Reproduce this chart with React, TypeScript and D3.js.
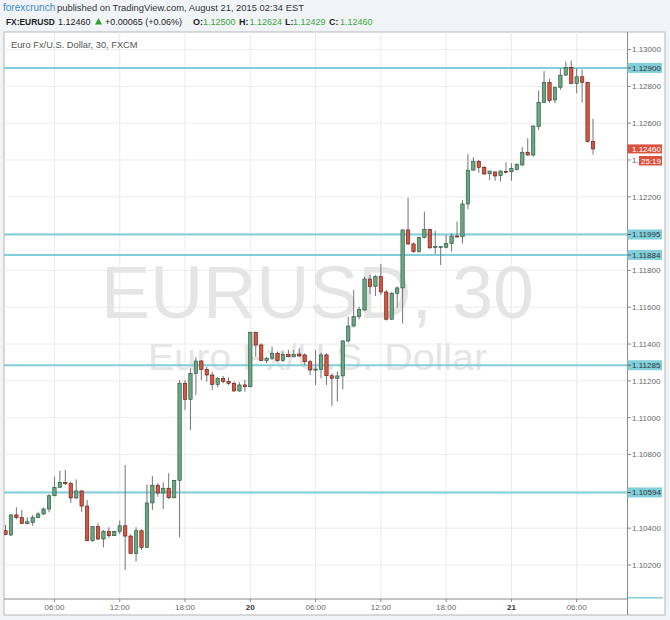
import React from 'react';
import * as d3 from 'd3';

// EURUSD 30 min candles, first bar 2015-08-19 01:30
const startTime = Date.UTC(2015, 7, 19, 1, 30);
const barMs = 30 * 60 * 1000;

const opens = [
  1.10386, 1.10363, 1.10472, 1.10457, 1.10424, 1.10432, 1.10457, 1.10477, 1.10504, 1.10576,
  1.10622, 1.10649, 1.10642, 1.10564, 1.10602, 1.10520, 1.10332, 1.10408, 1.10341, 1.10383,
  1.10359, 1.10383, 1.10413, 1.10357, 1.10263, 1.10386, 1.10296, 1.10537, 1.10633, 1.10591,
  1.10617, 1.10565, 1.10660, 1.11187, 1.11100, 1.11241, 1.11308, 1.11263, 1.11232, 1.11181,
  1.11214, 1.11196, 1.11187, 1.11145, 1.11178, 1.11168, 1.11464, 1.11395, 1.11310, 1.11323,
  1.11350, 1.11310, 1.11344, 1.11331, 1.11346, 1.11341, 1.11304, 1.11259, 1.11261, 1.11341,
  1.11228, 1.11214, 1.11227, 1.11417, 1.11498, 1.11549, 1.11585, 1.11753, 1.11712, 1.11766,
  1.11683, 1.11535, 1.11676, 1.11705, 1.12020, 1.11944, 1.11902, 1.11980, 1.12023, 1.11926,
  1.11929, 1.11926, 1.11947, 1.11987, 1.11983, 1.12161, 1.12345, 1.12393, 1.12360, 1.12325,
  1.12335, 1.12315, 1.12338, 1.12336, 1.12349, 1.12373, 1.12442, 1.12427, 1.12581, 1.12713,
  1.12820, 1.12726, 1.12795, 1.12861, 1.12903, 1.12816, 1.12852, 1.12822, 1.12500,
];
const highs = [
  1.10417, 1.10477, 1.10513, 1.10499, 1.10459, 1.10472, 1.10488, 1.10513, 1.10584, 1.10680,
  1.10712, 1.10716, 1.10652, 1.10665, 1.10607, 1.10553, 1.10412, 1.10426, 1.10390, 1.10405,
  1.10386, 1.10441, 1.10743, 1.10368, 1.10405, 1.10394, 1.10638, 1.10683, 1.10644, 1.10649,
  1.10698, 1.10662, 1.11205, 1.11205, 1.11268, 1.11328, 1.11313, 1.11277, 1.11250, 1.11223,
  1.11227, 1.11220, 1.11196, 1.11192, 1.11205, 1.11467, 1.11467, 1.11404, 1.11331, 1.11386,
  1.11359, 1.11359, 1.11368, 1.11368, 1.11377, 1.11350, 1.11313, 1.11368, 1.11353, 1.11350,
  1.11241, 1.11250, 1.11422, 1.11549, 1.11694, 1.11603, 1.11766, 1.11775, 1.11775, 1.11835,
  1.11694, 1.11683, 1.11712, 1.12023, 1.12195, 1.11951, 1.11983, 1.12119, 1.12025, 1.12014,
  1.11929, 1.11992, 1.12002, 1.12065, 1.12183, 1.12432, 1.12414, 1.12400, 1.12367, 1.12340,
  1.12336, 1.12342, 1.12387, 1.12382, 1.12382, 1.12469, 1.12518, 1.12590, 1.12776, 1.12883,
  1.12840, 1.12798, 1.12898, 1.12934, 1.12939, 1.12898, 1.12892, 1.12825, 1.12624,
];
const lows = [
  1.10361, 1.10357, 1.10448, 1.10423, 1.10421, 1.10413, 1.10454, 1.10472, 1.10486, 1.10573,
  1.10618, 1.10634, 1.10538, 1.10558, 1.10489, 1.10329, 1.10326, 1.10336, 1.10296, 1.10347,
  1.10357, 1.10368, 1.10173, 1.10260, 1.10218, 1.10281, 1.10291, 1.10499, 1.10571, 1.10504,
  1.10558, 1.10562, 1.10350, 1.11042, 1.10933, 1.11123, 1.11205, 1.11196, 1.11151, 1.11165,
  1.11187, 1.11178, 1.11141, 1.11141, 1.11141, 1.11165, 1.11331, 1.11308, 1.11296, 1.11313,
  1.11304, 1.11304, 1.11328, 1.11328, 1.11331, 1.11286, 1.11232, 1.11178, 1.11214, 1.11178,
  1.11064, 1.11087, 1.11154, 1.11407, 1.11491, 1.11534, 1.11580, 1.11672, 1.11661, 1.11667,
  1.11527, 1.11531, 1.11598, 1.11513, 1.11938, 1.11896, 1.11896, 1.11974, 1.11916, 1.11889,
  1.11829, 1.11920, 1.11902, 1.11980, 1.11947, 1.12132, 1.12342, 1.12331, 1.12318, 1.12291,
  1.12287, 1.12282, 1.12328, 1.12287, 1.12342, 1.12367, 1.12423, 1.12418, 1.12563, 1.12708,
  1.12711, 1.12708, 1.12780, 1.12856, 1.12813, 1.12762, 1.12711, 1.12494, 1.12429,
];
const closes = [
  1.10365, 1.10472, 1.10457, 1.10426, 1.10435, 1.10457, 1.10477, 1.10504, 1.10576, 1.10622,
  1.10649, 1.10642, 1.10564, 1.10602, 1.10520, 1.10332, 1.10408, 1.10341, 1.10383, 1.10359,
  1.10383, 1.10413, 1.10357, 1.10263, 1.10386, 1.10296, 1.10537, 1.10633, 1.10591, 1.10617,
  1.10565, 1.10660, 1.11187, 1.11100, 1.11241, 1.11308, 1.11263, 1.11232, 1.11181, 1.11214,
  1.11196, 1.11187, 1.11145, 1.11178, 1.11168, 1.11464, 1.11395, 1.11310, 1.11323, 1.11350,
  1.11310, 1.11344, 1.11331, 1.11344, 1.11335, 1.11304, 1.11259, 1.11264, 1.11341, 1.11228,
  1.11214, 1.11227, 1.11417, 1.11498, 1.11549, 1.11589, 1.11753, 1.11712, 1.11766, 1.11683,
  1.11535, 1.11676, 1.11705, 1.12020, 1.11944, 1.11902, 1.11980, 1.12023, 1.11923, 1.11929,
  1.11929, 1.11947, 1.11987, 1.11983, 1.12161, 1.12345, 1.12393, 1.12360, 1.12324, 1.12340,
  1.12313, 1.12340, 1.12335, 1.12353, 1.12376, 1.12442, 1.12427, 1.12584, 1.12713, 1.12820,
  1.12722, 1.12795, 1.12861, 1.12903, 1.12816, 1.12852, 1.12822, 1.12500, 1.12460,
];

// horizontal support / resistance lines
const levels = [1.129, 1.11995, 1.11884, 1.11285, 1.10594];
const priceTicks = [
  1.102, 1.104, 1.106, 1.108, 1.11, 1.112, 1.114, 1.116, 1.118, 1.12, 1.122, 1.124, 1.126, 1.128, 1.13,
];
const lastPrice = 1.1246;
const countdown = '25:19';

const W = 670;
const H = 620;
const plot = { left: 4, top: 32, right: 627.5, bottom: 599 };
const frameRight = 665;
const frameBottom = 615;

const upFill = '#6ba583';
const upLine = '#225437';
const downFill = '#d75442';
const downLine = '#5b1a13';
const wickColor = '#737375';
const levelColor = '#80cfdb';
const gridColor = '#ebebeb';
const green = '#3da53d';
const font = '"Liberation Sans", Arial, sans-serif';

const App: React.FC = () => {
  const n = closes.length;
  const times = d3.range(n).map(i => new Date(startTime + i * barMs));

  const x = d3.scaleUtc()
    .domain([times[0], times[n - 1]])
    .range([5.5, 5.5 + (n - 1) * 5.44]);

  const y = d3.scaleLinear()
    .domain([1.10, 1.13])
    .range([601.8, 49.5]);

  const timeTicks = x.ticks(d3.utcHour.every(6) as d3.TimeInterval);
  const tickLabel = (d: Date) =>
    d.getUTCHours() === 0 ? d3.utcFormat('%-d')(d) : d3.utcFormat('%H:%M')(d);

  const bodyW = 3.4;

  return (
    <svg width={W} height={H} style={{ position: 'absolute', left: 0, top: 0, display: 'block' }}
      fontFamily={font}>
      <defs>
        <clipPath id="plotClip">
          <rect x={plot.left} y={plot.top} width={plot.right - plot.left} height={plot.bottom - plot.top} />
        </clipPath>
        <clipPath id="underCountdown">
          <rect x={plot.right} y={150} width={639 - plot.right} height={20} />
        </clipPath>
      </defs>

      {/* page background */}
      <rect x={0} y={0} width={W} height={H} fill="#f1f4f6" />

      {/* header */}
      <text x={3} y={10.5} fontSize={10} fill="#3a8cc8">forexcrunch</text>
      <text x={57} y={10.5} fontSize={9.4} fill="#333">
        published on TradingView.com, August 21, 2015 02:34 EST
      </text>
      <g fontSize={9} fill="#222">
        <text x={6} y={25} fontWeight="bold" fontSize={8.4}>FX:EURUSD</text>
        <text x={58} y={25}>1.12460</text>
        <polygon points="95,24.5 102,24.5 98.5,18" fill="#2fa12f" />
        <text x={105} y={25}>+0.00065 (+0.06%)</text>
        <text x={193} y={25} fontWeight="bold">O:</text>
        <text x={203} y={25} fill={green}>1.12500</text>
        <text x={239} y={25} fontWeight="bold">H:</text>
        <text x={249.5} y={25} fill={green}>1.12624</text>
        <text x={285} y={25} fontWeight="bold">L:</text>
        <text x={293} y={25} fill={green}>1.12429</text>
        <text x={329} y={25} fontWeight="bold">C:</text>
        <text x={340} y={25} fill={green}>1.12460</text>
      </g>

      {/* chart frame */}
      <rect x={plot.left} y={plot.top} width={frameRight - plot.left} height={frameBottom - plot.top}
        fill="#fff" stroke="#b5b5b5" strokeWidth={1} />

      {/* grid */}
      <g stroke={gridColor} strokeWidth={1}>
        {timeTicks.map((t, i) => (
          <line key={'vg' + i} x1={x(t)} x2={x(t)} y1={plot.top} y2={plot.bottom} />
        ))}
        {priceTicks.map((p, i) => (
          <line key={'hg' + i} x1={plot.left} x2={plot.right} y1={y(p)} y2={y(p)} />
        ))}
      </g>

      {/* watermark */}
      <text x={317.5} y={318} textAnchor="middle" fontSize={75} fill="#e5e5e5"
        textLength={433} lengthAdjust="spacingAndGlyphs">EURUSD, 30</text>
      <text x={317.5} y={370} textAnchor="middle" fontSize={36} fill="#e5e5e5"
        textLength={339} lengthAdjust="spacingAndGlyphs">Euro Fx/U.S. Dollar</text>

      <text x={11} y={47.5} fontSize={9.3} fill="#555">Euro Fx/U.S. Dollar, 30, FXCM</text>

      {/* level lines */}
      <g clipPath="url(#plotClip)">
        {levels.map((l, i) => (
          <line key={'lv' + i} x1={plot.left} x2={plot.right} y1={y(l)} y2={y(l)}
            stroke={levelColor} strokeWidth={2} />
        ))}
      </g>

      {/* candles */}
      <g clipPath="url(#plotClip)">
        {times.map((t, i) => {
          const up = closes[i] >= opens[i];
          const cx = x(t);
          const top = y(Math.max(opens[i], closes[i]));
          const bot = y(Math.min(opens[i], closes[i]));
          return (
            <g key={'c' + i}>
              <line x1={cx} x2={cx} y1={y(highs[i])} y2={y(lows[i])} stroke={wickColor} strokeWidth={1} />
              <rect x={cx - bodyW / 2} y={top} width={bodyW} height={Math.max(bot - top, 1)}
                fill={up ? upFill : downFill} stroke={up ? upLine : downLine} strokeWidth={0.6} />
            </g>
          );
        })}
      </g>

      {/* right price axis */}
      <line x1={plot.right} x2={plot.right} y1={plot.top} y2={frameBottom} stroke="#8a8a8a" strokeWidth={1} />
      <g fontSize={8} fill="#666">
        {priceTicks.map((p, i) => {
          // the countdown box hides most of the 1.12400 label
          const hidden = Math.abs(p - 1.124) < 1e-9;
          return (
            <g key={'pt' + i}>
              <line x1={plot.right} x2={plot.right + 3.5} y1={y(p)} y2={y(p)} stroke="#8a8a8a" />
              <text x={632} y={y(p) + 2.9} clipPath={hidden ? 'url(#underCountdown)' : undefined}>
                {hidden ? '1.' : d3.format('.5f')(p)}
              </text>
            </g>
          );
        })}
      </g>
      {levels.map((l, i) => (
        <g key={'lb' + i}>
          <rect x={plot.right} y={y(l) - 5} width={34.5} height={10} fill={levelColor} />
          <line x1={plot.right} x2={plot.right + 3.5} y1={y(l)} y2={y(l)} stroke="#555" />
          <text x={632} y={y(l) + 2.9} fontSize={8} fill="#333">{d3.format('.5f')(l)}</text>
        </g>
      ))}
      <line x1={plot.right + 0.5} x2={frameRight - 2} y1={597.7} y2={597.7} stroke={levelColor} strokeWidth={1.5} />

      {/* last price and countdown */}
      <rect x={plot.right} y={y(lastPrice) - 4.5} width={34.5} height={9} fill="#d9533f" />
      <text x={632} y={y(lastPrice) + 2.9} fontSize={8} fill="#fff">{d3.format('.5f')(lastPrice)}</text>
      <rect x={639} y={156} width={23} height={9.5} fill="#d9533f" />
      <text x={641} y={163.5} fontSize={8} fill="#fff">{countdown}</text>

      {/* bottom time axis */}
      <line x1={plot.left} x2={plot.right} y1={plot.bottom} y2={plot.bottom} stroke="#8a8a8a" strokeWidth={1} />
      <g fontSize={8}>
        {timeTicks.map((t, i) => {
          const day = t.getUTCHours() === 0;
          return (
            <g key={'tt' + i}>
              <line x1={x(t)} x2={x(t)} y1={plot.bottom} y2={plot.bottom + 3} stroke="#8a8a8a" />
              <text x={x(t)} y={610} textAnchor="middle" fill={day ? '#333' : '#666'}
                fontWeight={day ? 'bold' : 'normal'}>{tickLabel(t)}</text>
            </g>
          );
        })}
      </g>
    </svg>
  );
};

export default App;
